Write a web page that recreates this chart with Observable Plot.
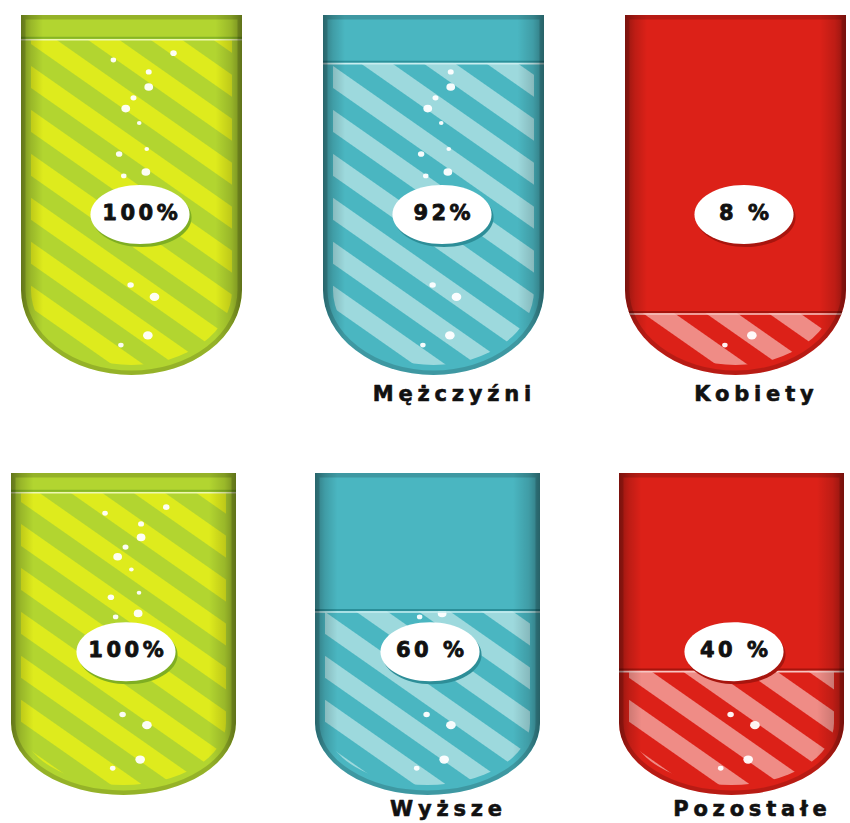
<!DOCTYPE html>
<html>
<head>
<meta charset="utf-8">
<script src="https://cdn.jsdelivr.net/npm/d3@7"></script>
<script src="https://cdn.jsdelivr.net/npm/@observablehq/plot@0.6"></script>
<style>
  html, body { margin: 0; padding: 0; background: #fff; }
  #chart svg { display: block; }
</style>
</head>
<body>
<div id="chart"></div>
<script>
// ---- Data ----
const row1Categories = ["", "Mężczyźni", "Kobiety"];
const row1Values = [100, 92, 8];
const row1Labels = ["100%", "92%", "8 %"];

const row2Categories = ["", "Wyższe", "Pozostałe"];
const row2Values = [100, 60, 40];
const row2Labels = ["100%", "60 %", "40 %"];

// ---- Styles ----
const palettes = [
  {base: "#b2d530", light: "#deeb1d", edge: "#86b626", highlight: "#eef7b4", shadow: "#7fae22"},
  {base: "#4ab6c1", light: "#9dd9dd", edge: "#2b8f99", highlight: "#c9eef0", shadow: "#2d8e98"},
  {base: "#dc2118", light: "#ef8c86", edge: "#a5140d", highlight: "#f7c6c2", shadow: "#a8150e"}
];
// decorative bubbles: [offset from centre as fraction of width, depth as fraction of glass height, radius px]
const bubbles = [
  [0.19, 0.106, 2.8], [-0.082, 0.125, 2.4], [0.078, 0.158, 2.6], [0.078, 0.2, 3.8],
  [0.009, 0.23, 2.6], [-0.026, 0.26, 3.8], [0.035, 0.30, 2.0], [-0.056, 0.386, 2.8],
  [0.069, 0.372, 2.0], [0.065, 0.436, 3.8], [-0.035, 0.447, 2.4], [-0.004, 0.75, 2.8],
  [0.104, 0.783, 4.2], [0.074, 0.89, 4.2], [-0.048, 0.917, 2.4]
];
const FONT = "DejaVu Sans, Verdana, sans-serif";
const PCT_SPACING = 3.5;
const NAME_SPACING = 4.8;

function tubePath(x0, x1, top, bottom, rx, ry) {
  return `M${x0},${top}L${x0},${bottom - ry}A${rx},${ry} 0 0 0 ${x1},${bottom - ry}L${x1},${top}Z`;
}

const ellipseSymbol = {
  draw(context, size) {
    const r = Math.sqrt(size / Math.PI);
    const rx = r * 1.68, ry = r, k = 0.5523;
    context.moveTo(rx, 0);
    context.bezierCurveTo(rx, ry * k, rx * k, ry, 0, ry);
    context.bezierCurveTo(-rx * k, ry, -rx, ry * k, -rx, 0);
    context.bezierCurveTo(-rx, -ry * k, -rx * k, -ry, 0, -ry);
    context.bezierCurveTo(rx * k, -ry, rx, -ry * k, rx, 0);
    context.closePath();
  }
};

function makeTubes(data, id, geom) {
  return (index, scales) => {
    const {x, y} = scales;
    const bw = x.bandwidth();
    const g = d3.create("svg:g");
    const defs = g.append("defs");
    const shade = defs.append("linearGradient").attr("id", `${id}-shade`)
      .attr("x1", 0).attr("x2", 1).attr("y1", 0).attr("y2", 0);
    [[0, 0.34], [0.045, 0.14], [0.1, 0], [0.88, 0], [0.95, 0.14], [1, 0.36]].forEach(([o, a]) =>
      shade.append("stop").attr("offset", o).attr("stop-color", "#000").attr("stop-opacity", a));

    data.forEach((d, i) => {
      const p = d.palette;
      const x0 = x(d.cat), x1 = x0 + bw, cx = x0 + bw / 2;
      const top = y(100) - geom.rim, bottom = y(0) + geom.base;
      const H = bottom - top;
      const outer = tubePath(x0, x1, top, bottom, bw / 2, geom.ry);
      const inner = tubePath(x0 + geom.inset, x1 - geom.inset, top, bottom - geom.inset,
                             bw / 2 - geom.inset, geom.ry - geom.inset);
      const level = y(d.value);

      defs.append("clipPath").attr("id", `${id}-glass-${i}`).append("path").attr("d", outer);
      defs.append("clipPath").attr("id", `${id}-liq-${i}`).append("rect")
        .attr("x", x0).attr("y", level).attr("width", bw).attr("height", bottom - level);
      const pat = defs.append("pattern").attr("id", `${id}-stripe-${i}`)
        .attr("patternUnits", "userSpaceOnUse").attr("width", 40).attr("height", 36)
        .attr("patternTransform", `translate(${x0},${top}) rotate(35)`);
      pat.append("rect").attr("width", 40).attr("height", 36).attr("fill", p.base);
      pat.append("rect").attr("width", 40).attr("height", 18).attr("fill", p.light);

      g.append("path").attr("d", outer).attr("fill", p.base);

      const liq = g.append("g").attr("clip-path", `url(#${id}-liq-${i})`);
      liq.append("path").attr("d", inner).attr("fill", `url(#${id}-stripe-${i})`);
      bubbles.forEach(([fx, fy, r]) => {
        liq.append("ellipse").attr("cx", cx + fx * bw).attr("cy", top + fy * H)
          .attr("rx", r * 1.15).attr("ry", r).attr("fill", "#fff").attr("fill-opacity", 0.95);
      });

      const glass = g.append("g").attr("clip-path", `url(#${id}-glass-${i})`);
      glass.append("line").attr("x1", x0).attr("x2", x1).attr("y1", level - 1.2).attr("y2", level - 1.2)
        .attr("stroke", p.edge).attr("stroke-width", 2);
      glass.append("line").attr("x1", x0).attr("x2", x1).attr("y1", level + 0.8).attr("y2", level + 0.8)
        .attr("stroke", p.highlight).attr("stroke-width", 1.6);
      glass.append("path").attr("d", outer).attr("fill", `url(#${id}-shade)`);
      glass.append("path").attr("d", outer).attr("fill", "none")
        .attr("stroke", "#000").attr("stroke-opacity", 0.16).attr("stroke-width", 9);
    });
    return g.node();
  };
}

function tubeRow(categories, values, labels, id, geom) {
  const data = categories.map((c, i) => ({cat: c, value: values[i], label: labels[i], palette: palettes[i]}));
  const svg = Plot.plot({
    width: 850,
    height: geom.height,
    marginTop: geom.marginTop,
    marginBottom: geom.marginBottom,
    marginLeft: geom.marginLeft,
    marginRight: geom.marginRight,
    style: {fontFamily: FONT, background: "#fff"},
    x: {type: "band", domain: categories, paddingInner: geom.paddingInner, paddingOuter: 0, axis: null},
    y: {domain: [0, 100], axis: null},
    color: {type: "identity"},
    marks: [
      makeTubes(data, id, geom),
      Plot.dot(data, {x: "cat", y: () => geom.labelLevel, r: 29.5, symbol: ellipseSymbol,
        fill: d => d.palette.shadow, dx: geom.labelDx + 2, dy: 3}),
      Plot.dot(data, {x: "cat", y: () => geom.labelLevel, r: 29.5, symbol: ellipseSymbol,
        fill: "#ffffff", dx: geom.labelDx}),
      Plot.text(data, {x: "cat", y: () => geom.labelLevel, text: "label",
        fontSize: 21, fontWeight: "bold", fill: "#111", stroke: "#111", strokeWidth: 0.8,
        dx: geom.labelDx + PCT_SPACING / 2, dy: -1}),
      Plot.text(data.filter(d => d.cat !== ""), {x: "cat", y: () => 0, text: "cat",
        fontSize: 21, fontWeight: "bold", fill: "#111", stroke: "#111", strokeWidth: 0.6,
        dx: 18 + NAME_SPACING / 2, dy: geom.nameDy})
    ]
  });
  d3.select(svg).selectAll("text").each(function() {
    const t = this.textContent || "";
    this.style.letterSpacing = (t.includes("%") ? PCT_SPACING : NAME_SPACING) + "px";
  });
  return svg;
}

const chart = document.getElementById("chart");
chart.append(tubeRow(row1Categories, row1Values, row1Labels, "r1", {
  height: 420, marginTop: 39, marginBottom: 83, marginLeft: 20, marginRight: 2,
  paddingInner: 0.2673, rim: 24, base: 38, ry: 85, inset: 10,
  labelLevel: 41.3, labelDx: 8, nameDy: 56.6
}));
chart.append(tubeRow(row2Categories, row2Values, row2Labels, "r2", {
  height: 403, marginTop: 72, marginBottom: 33, marginLeft: 10, marginRight: 4,
  paddingInner: 0.259, rim: 19, base: 5, ry: 72, inset: 10,
  labelLevel: 46.6, labelDx: 2, nameDy: 18.6
}));
</script>
</body>
</html>
